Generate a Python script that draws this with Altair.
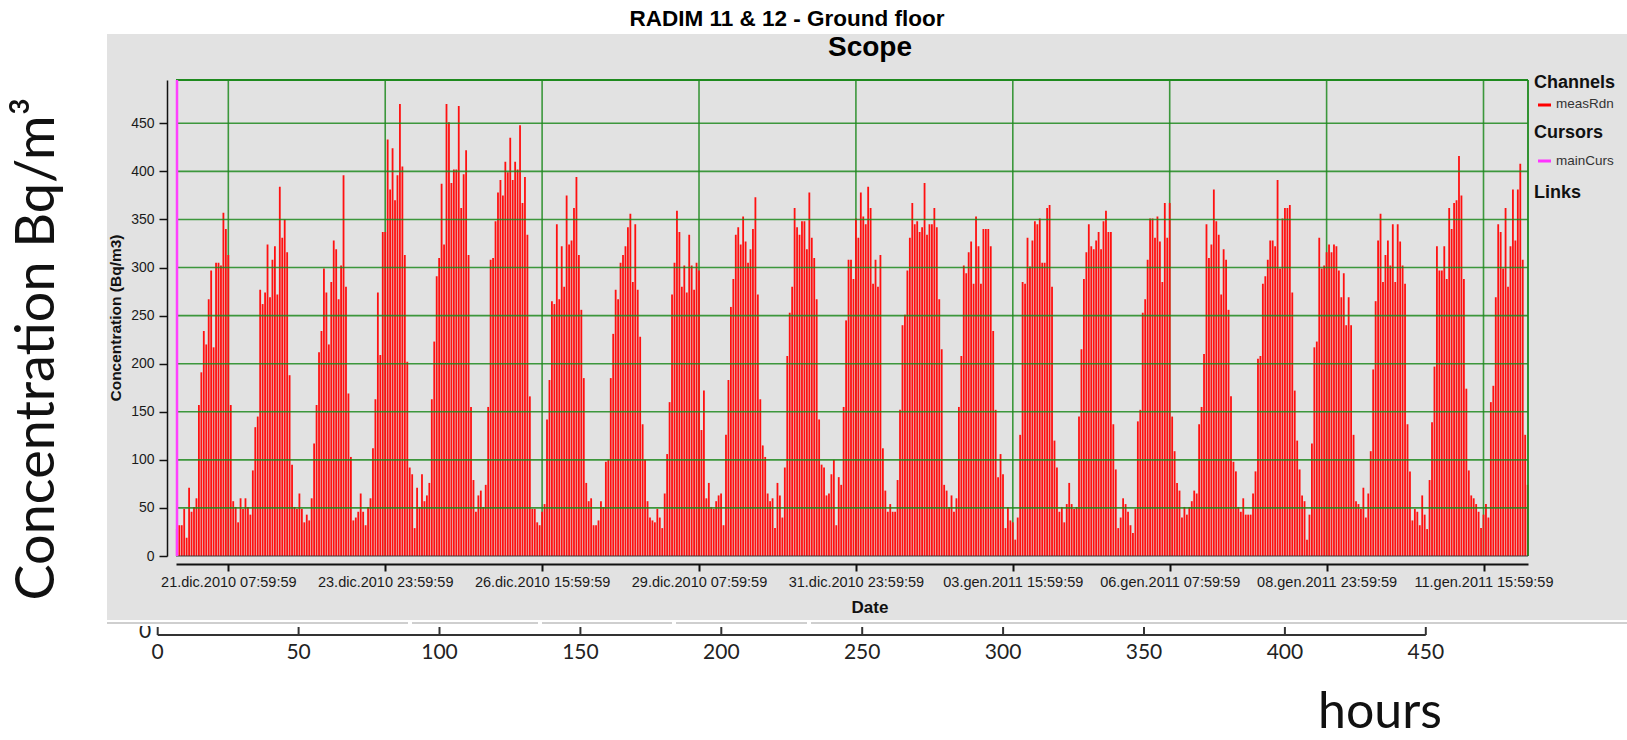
import altair as alt
import pandas as pd

# Hourly radon concentration (Bq/m3), RADIM 11 & 12, ground floor.
# One reading per hour starting 20.dic.2010 ~11:00.
radon_part1 = [  # hours 0-110
    28, 32, 32, 49, 19, 71, 46, 51, 60, 157, 191, 234, 220, 267, 297, 217, 305, 305, 302, 357, 340, 313,
    157, 57, 51, 35, 60, 49, 60, 51, 43, 89, 134, 145, 277, 262, 274, 324, 269, 308, 322, 272,
    384, 331, 350, 316, 188, 95, 51, 49, 65, 49, 35, 43, 37, 60, 117, 157, 212, 234, 299, 274,
    220, 285, 328, 319, 267, 302, 396, 280, 169, 103, 37, 40, 46, 65, 46, 32, 51, 60, 112, 163,
    274, 209, 337, 337,
    433, 381, 424, 370, 396, 470, 405, 313, 202, 92, 85, 29, 71, 51, 85, 57, 63, 76, 163, 223,
    291, 310, 387, 324, 470,
]
radon_part2 = [  # hours 111-221
    451, 388, 402, 402, 468, 362, 397, 422, 313, 155,
    79, 46, 63, 68, 51, 74, 155, 308, 310, 348,
    378, 391, 375, 410, 399, 435, 391, 410, 402, 448,
    367, 394, 334, 166, 49, 49, 35, 32, 46, 54,
    142, 183, 265, 262, 345, 267, 322, 280, 375, 324,
    328, 362, 394, 313, 256, 185, 76, 57, 60, 32,
    32, 37, 57, 51, 98, 100, 185, 231, 277, 267,
    305, 313, 322, 342, 356, 285, 345, 277, 228, 137,
    100, 57, 40, 37, 35, 49, 40, 29, 65, 106,
    160, 272, 305, 359, 337, 280, 302, 274, 334, 302,
    277, 305, 297, 131, 172, 60, 76, 51, 49, 57,
    63,
]
radon_part3 = [  # hours 222-333
    65, 32, 126, 183, 259, 288, 334, 342, 324, 353,
    327, 305, 319, 340, 373, 272, 163, 115, 103, 65,
    57, 60, 29, 76, 63, 40, 92, 208, 253, 280,
    362, 342, 334, 348, 348, 319, 378, 331, 310, 267,
    142, 95, 92, 63, 65, 85, 100, 32, 82, 74,
    155, 245, 308, 308, 288, 351, 331, 378, 353, 345,
    384, 362, 283, 308, 280, 313, 112, 68, 46, 54,
    46, 46, 79, 152, 240, 251, 297, 331, 367, 345,
    348, 337, 342, 388, 334, 345, 345, 362, 342, 267,
    215, 74, 68, 51, 63, 46, 60, 155, 208, 302,
    294, 316, 327, 283, 353, 322, 283, 340, 340, 340,
    322, 234,
]
radon_part4 = [  # hours 334-444
    152, 82, 106, 85, 29, 51, 37, 35, 17, 40,
    126, 285, 283, 331, 301, 328, 348, 345, 351, 305,
    305, 362, 365, 280, 120, 92, 46, 51, 35, 54,
    76, 54, 49, 51, 145, 215, 288, 316, 345, 322,
    319, 328, 337, 319, 348, 359, 337, 337, 137, 90,
    29, 40, 60, 54, 46, 32, 24, 49, 140, 152,
    253, 267, 308, 351, 351, 331, 353, 327, 285, 367,
    331, 367, 145, 109, 76, 68, 40, 51, 43, 51,
    57, 68, 65, 137, 155, 210, 345, 310, 324, 381,
    348, 334, 272, 319, 308, 256, 166, 98, 88, 51,
    46, 60, 43, 43, 43, 65, 88, 205, 208, 283,
    291,
]
radon_part5 = [  # hours 445-551
    308, 328, 328, 322, 391, 299, 351, 362, 362, 365,
    274, 172, 120, 90, 63, 57, 17, 43, 117, 217,
    223, 331, 299, 302, 316, 324, 316, 324, 322, 297,
    269, 294, 240, 269, 240, 126, 57, 54, 49, 71,
    40, 65, 109, 194, 265, 328, 356, 285, 313, 328,
    302, 345, 285, 345, 327, 302, 283, 137, 88, 37,
    49, 46, 32, 63, 43, 28, 79, 139, 197, 322,
    297, 297, 322, 288, 362, 340, 367, 370, 416, 375,
    288, 174, 89, 63, 60, 54, 46, 29, 43, 54,
    40, 160, 177, 269, 345, 337, 299, 362, 280, 322,
    381, 328, 381, 408, 308, 126, 74,
]

# Date ticks every 64 hours
tick_hours = [21, 85, 149, 213, 277, 341, 405, 469, 533]
tick_labels = [
    "21.dic.2010 07:59:59", "23.dic.2010 23:59:59", "26.dic.2010 15:59:59",
    "29.dic.2010 07:59:59", "31.dic.2010 23:59:59", "03.gen.2011 15:59:59",
    "06.gen.2011 07:59:59", "08.gen.2011 23:59:59", "11.gen.2011 15:59:59",
]
y_ticks = [0, 50, 100, 150, 200, 250, 300, 350, 400, 450]
hour_axis_ticks = [0, 50, 100, 150, 200, 250, 300, 350, 400, 450]

values = radon_part1 + radon_part2 + radon_part3 + radon_part4 + radon_part5
df = pd.DataFrame({"hour": list(range(len(values))), "conc": values})

W, H = 1352, 476
X_DOMAIN = [-0.34, 551.15]
Y_DOMAIN = [0, 495]
GREEN = "#1f8a1f"
PANEL = "#e2e2e2"
FONT = "Liberation Sans"
BIG_FONT = "Lato"

xs = alt.Scale(domain=X_DOMAIN, nice=False, zero=False, padding=0)
ys = alt.Scale(domain=Y_DOMAIN, nice=False, zero=True, padding=0)
one = pd.DataFrame({"k": [0]})

label_expr = " : ".join(f"datum.value == {h} ? '{t}'" for h, t in zip(tick_hours, tick_labels)) + " : ''"


def text(t, x, y, size, weight="normal", align="center", angle=0, font=FONT, color="#111", baseline="middle"):
    return alt.Chart(pd.DataFrame({"t": [t]})).mark_text(
        fontSize=size, fontWeight=weight, align=align, angle=angle, font=font,
        color=color, baseline=baseline,
    ).encode(x=alt.value(x), y=alt.value(y), text="t:N")


def box(x, x2, y, y2, color):
    return alt.Chart(one).mark_rect(color=color).encode(
        x=alt.value(x), x2=alt.value(x2), y=alt.value(y), y2=alt.value(y2)
    )


def line(x, x2, y, y2, color, width):
    return alt.Chart(one).mark_rule(color=color, strokeWidth=width).encode(
        x=alt.value(x), x2=alt.value(x2), y=alt.value(y), y2=alt.value(y2)
    )


# label of a chart underneath, mostly hidden by the panel
hidden_zero = text("0", -31, 552, 21, font=BIG_FONT, color="#222")
panel = box(-69, 1451, -46, 540, PANEL)
white_band = box(-69, 1451, 540, 546, "white")
separator = alt.layer(
    line(-69, 232, 543, 543, "#cfcfcf", 2),
    line(236, 362, 543, 543, "#cfcfcf", 2),
    line(366, 496, 543, 543, "#cfcfcf", 2),
    line(500, 631, 543, 543, "#cfcfcf", 2),
    line(635, 1451, 543, 543, "#cfcfcf", 2),
)

vgrid = alt.Chart(pd.DataFrame({"hour": tick_hours})).mark_rule(
    color=GREEN, strokeWidth=1.6, opacity=0.85
).encode(x=alt.X("hour:Q", scale=xs, axis=None), y=alt.value(0), y2=alt.value(H))

bars = alt.Chart(df).mark_bar(color="#ff1010", width=1.8).encode(
    x=alt.X("hour:Q", scale=xs, axis=alt.Axis(
        values=tick_hours, labelExpr=label_expr, offset=8, tickSize=7, labelPadding=4,
        labelFontSize=14.5, labelFont=FONT, labelColor="#1a1a1a", domainColor="#111",
        tickColor="#111", domainWidth=2, tickWidth=2, labelFlush=False,
        labelOverlap=False, grid=False, title=None, zindex=1,
    )),
    y=alt.Y("conc:Q", scale=ys, axis=alt.Axis(
        values=y_ticks, offset=9, tickSize=8, labelPadding=5, labelFontSize=14,
        labelFont=FONT, labelColor="#1a1a1a", domainColor="#111", tickColor="#111",
        domainWidth=1.5, tickWidth=1.5, grid=False, title=None, zindex=1,
    )),
)

hgrid = alt.Chart(pd.DataFrame({"v": y_ticks[1:]})).mark_rule(
    color=GREEN, strokeWidth=1.6, opacity=0.85
).encode(y=alt.Y("v:Q", scale=ys), x=alt.value(0), x2=alt.value(W))

frame = alt.layer(
    line(0, W, 0, 0, GREEN, 1.8),
    line(W, W, 0, H, GREEN, 1.8),
    line(0, W, H, H, "#3a3a3a", 1),
)
cursor = line(1, 1, 0, H, "#ff40ff", 2.5)

titles = alt.layer(
    text("RADIM 11 & 12 - Ground floor", 611, -61, 22.5, "bold", color="#000"),
    text("Scope", 694, -32, 28, "bold", color="#000"),
    text("Date", 694, 528, 17, "bold", color="#111"),
    text("Concentration (Bq/m3)", -60, 238, 15.5, "bold", angle=270, color="#111"),
    text("Concentration Bq/m³", -122, 269, 54, angle=270, font=BIG_FONT, color="#111", baseline="alphabetic"),
    text("hours", 1204, 648, 50, font=BIG_FONT, color="#111", baseline="alphabetic"),
)

legend = alt.layer(
    text("Channels", 1358, 3, 18, "bold", align="left"),
    line(1362, 1375, 25, 25, "#ff0000", 3),
    text("measRdn", 1380, 24, 13.5, align="left", color="#333"),
    text("Cursors", 1358, 53, 18, "bold", align="left"),
    line(1362, 1375, 81, 81, "#ff33ff", 3),
    text("mainCurs", 1380, 81, 13.5, align="left", color="#333"),
    text("Links", 1358, 113, 18, "bold", align="left"),
)

# elapsed-hours axis under the panel
hs = alt.Scale(domain=[0, 450], range=[-18.3, 1249.8], nice=False, zero=False, padding=0)
hour_df = pd.DataFrame({"h": hour_axis_ticks, "lab": [str(v) for v in hour_axis_ticks]})
hour_line = alt.Chart(pd.DataFrame({"a": [hour_axis_ticks[0]], "b": [hour_axis_ticks[-1]]})).mark_rule(
    color="#333", strokeWidth=2
).encode(x=alt.X("a:Q", scale=hs, axis=None), x2="b:Q", y=alt.value(555))
hour_ticks = alt.Chart(hour_df).mark_rule(color="#333", strokeWidth=2).encode(
    x=alt.X("h:Q", scale=hs, axis=None), y=alt.value(547), y2=alt.value(555)
)
hour_labels = alt.Chart(hour_df).mark_text(
    fontSize=21, font=BIG_FONT, color="#222", baseline="middle"
).encode(x=alt.X("h:Q", scale=hs, axis=None), y=alt.value(573), text="lab:N")

chart = alt.layer(
    hidden_zero, panel, white_band, separator, vgrid, bars, hgrid, frame, cursor,
    titles, legend, hour_line, hour_ticks, hour_labels,
).resolve_scale(x="independent").properties(
    width=W, height=H,
    padding={"left": 176, "top": 80, "right": 99, "bottom": 184},
    autosize=alt.AutoSizeParams(type="none"),
    background="white",
).configure_view(stroke=None)

chart.save("out.html", embed_options={"renderer": "svg", "actions": False})
